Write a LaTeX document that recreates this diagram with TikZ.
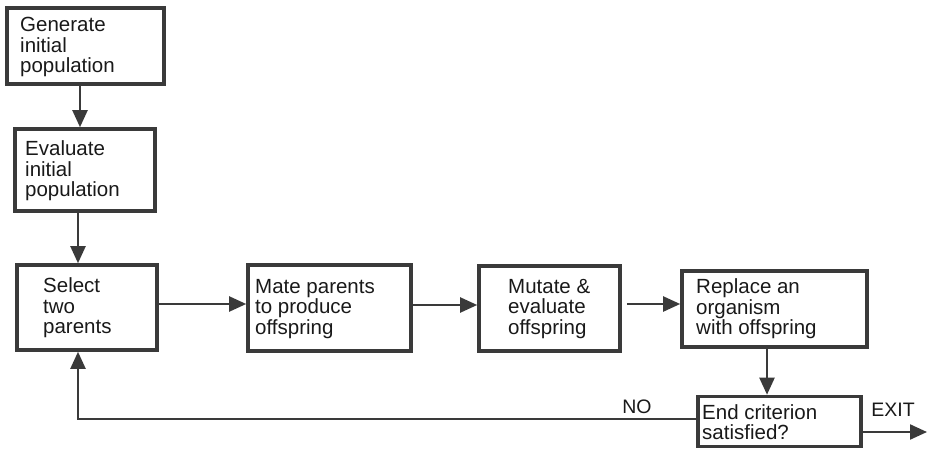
\documentclass[tikz,border=0pt]{standalone}
\usepackage{fontspec}
\setmainfont{Liberation Sans}
\usetikzlibrary{arrows.meta}
\definecolor{ln}{HTML}{3A3A3A}
\begin{document}
\begin{tikzpicture}[x=1pt,y=-1pt,
  box/.style={draw=ln,line width=3.6pt,rectangle,inner sep=0pt},
  txt/.style={anchor=west,align=left,inner sep=0pt,font=\fontsize{20.5}{20.5}\selectfont,text=black!90},
  lbl/.style={inner sep=0pt,font=\fontsize{19.5}{21}\selectfont,text=black!90},
  conn/.style={draw=ln,line width=2.2pt,-{Triangle[length=17pt,width=15pt]}}]
\useasboundingbox (0,0) rectangle (928,449);
% boxes
\node[box,minimum width=157pt,minimum height=76pt] (b1) at (85.5,46) {};
\node[box,minimum width=140pt,minimum height=82pt] (b2) at (85,170) {};
\node[box,minimum width=140pt,minimum height=85pt] (b3) at (87,307.5) {};
\node[box,minimum width=163pt,minimum height=86pt] (b4) at (329.5,308) {};
\node[box,minimum width=141pt,minimum height=85pt] (b5) at (549.5,308.5) {};
\node[box,minimum width=185pt,minimum height=76pt] (b6) at (774.5,309) {};
\node[box,minimum width=163pt,minimum height=50pt] (b7) at (779.5,421.5) {};
% texts
\node[txt] (t1) at (20,47) {Generate\\initial\\population};
\node[txt] (t2) at (25,171) {Evaluate\\initial\\population};
\node[txt] (t3) at (43,308) {Select\\two\\parents};
\node[txt] (t4) at (255,309) {Mate parents\\to produce\\offspring};
\node[txt] (t5) at (508,309) {Mutate \&\\evaluate\\offspring};
\node[txt] (t6) at (696,309) {Replace an\\organism\\with offspring};
\node[txt] (t7) at (702,422) {End criterion\\satisfied?};
\node[lbl] (no) at (637,407) {NO};
\node[lbl] (ex) at (893,410) {EXIT};
\coordinate (exend) at (927,432);
% connectors
\draw[conn] ([xshift=-5.5pt]b1.south) -- ([xshift=-5pt]b2.north);
\draw[conn] ([xshift=-7pt]b2.south) -- ([xshift=-9pt]b3.north);
\draw[conn] (b3.east |- 0,304) -- (b4.west |- 0,304);
\draw[conn] (b4.east |- 0,305) -- (b5.west |- 0,305);
\draw[conn,shorten <=5pt] (b5.east |- 0,304) -- (b6.west |- 0,304);
\draw[conn] ([xshift=-7.5pt]b6.south) -- ([xshift=-12.5pt]b7.north);
\draw[conn] (b7.west |- 0,419) -| ([xshift=-9pt]b3.south);
\draw[conn] (b7.east |- exend) -- (exend);
\end{tikzpicture}
\end{document}
